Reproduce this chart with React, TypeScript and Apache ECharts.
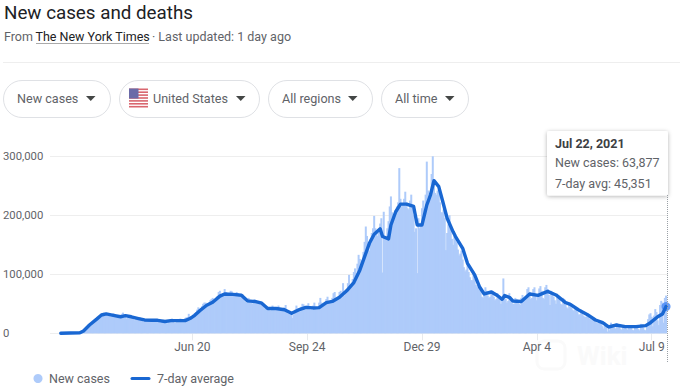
import React, { useEffect, useRef } from "react";
import * as echarts from "echarts";

const FONT = "Roboto, sans-serif";

const tickDays = [110, 206, 302, 398, 494];
const tickLabels = ["Jun 20", "Sep 24", "Dec 29", "Apr 4", "Jul 9"];
const yTicks = [0, 100000, 200000, 300000];

// Daily new cases (thousands); index 0 = Mar 2, 2020, last = Jul 22, 2021
const dailyCasesK = [
  0, 0, 0, 0, 0, 0, 0, 0, 0, 0,
  0.3, 0.5, 0.6, 0.7, 1, 1.5, 2, 3, 4.5, 6,
  8, 10, 9, 11, 13, 14, 18, 18, 19, 21,
  24, 27, 26, 28, 33, 34, 35, 31, 34, 33,
  33, 30, 28, 30, 34, 32, 29, 27, 30, 29,
  31, 33, 35, 30, 28, 25, 27, 31, 30, 29,
  27, 24, 22, 27, 25, 26, 27, 25, 22, 20,
  21, 23, 24, 23, 23, 20, 19, 20, 22, 23,
  24, 24, 20, 18, 19, 22, 23, 21, 20, 17,
  21, 23, 24, 25, 22, 18, 18, 21, 22, 24,
  25, 23, 20, 21, 26, 27, 27, 33, 29, 26,
  28, 32, 34, 36, 40, 44, 38, 40, 46, 50,
  52, 52, 47, 48, 52, 56, 58, 60, 54, 54,
  60, 63, 70, 72, 66, 64, 68, 75, 70, 66,
  64, 67, 72, 71, 65, 63, 66, 70, 68, 64,
  62, 64, 66, 60, 54, 52, 56, 60, 56, 52,
  50, 56, 58, 56, 52, 50, 52, 54, 50, 46,
  42, 44, 46, 44, 40, 38, 42, 47, 44, 41,
  40, 44, 47, 43, 39, 38, 40, 44, 48, 38,
  33, 35, 37, 34, 26, 32, 40, 47, 42, 38,
  40, 45, 50, 49, 43, 40, 47, 51, 44, 40,
  41, 47, 52, 44, 41, 42, 52, 60, 52, 46,
  46, 52, 58, 62, 52, 52, 55, 60, 68, 70,
  58, 58, 62, 70, 72, 68, 85, 64, 68, 75,
  85, 99, 82, 84, 92, 104, 110, 102, 118, 133,
  126, 118, 124, 138, 155, 181, 165, 145, 140, 160,
  170, 178, 199, 178, 172, 165, 170, 186, 195, 103,
  206, 160, 158, 178, 190, 215, 232, 205, 195, 200,
  208, 215, 222, 280, 228, 215, 220, 228, 240, 222,
  212, 210, 225, 235, 218, 200, 172, 178, 102, 195,
  178, 182, 212, 225, 205, 235, 291, 242, 225, 230,
  270, 300, 258, 238, 235, 242, 245, 222, 205, 205,
  210, 195, 141, 170, 185, 200, 178, 160, 150, 165,
  165, 155, 142, 132, 135, 140, 125, 112, 105, 108,
  115, 104, 95, 90, 90, 105, 92, 82, 78, 80,
  78, 72, 62, 60, 70, 78, 72, 64, 60, 62,
  72, 72, 62, 56, 58, 68, 65, 58, 50, 60,
  93, 66, 58, 52, 55, 68, 62, 54, 50, 50,
  60, 58, 52, 50, 48, 60, 65, 58, 55, 58,
  75, 78, 70, 58, 60, 75, 78, 64, 56, 62,
  76, 80, 72, 60, 58, 78, 82, 75, 65, 48,
  72, 70, 62, 56, 50, 65, 62, 58, 50, 48,
  60, 58, 48, 44, 42, 52, 50, 44, 40, 38,
  45, 42, 36, 32, 32, 40, 38, 30, 28, 28,
  32, 30, 25, 25, 22, 27, 26, 20, 18, 17,
  22, 20, 16, 12, 8, 18, 15, 3, 8, 5,
  18, 15, 15, 10, 8, 17, 14, 12, 8, 6,
  14, 13, 12, 8, 6, 14, 14, 11, 6, 5,
  14, 12, 11, 7, 5, 16, 15, 10, 6, 5,
  16, 24, 32, 34, 28, 12, 30, 41, 36, 22,
  14, 48, 55, 52, 18, 60, 63.877,
];

// 7-day average, read at the line's bends
const avgDays = [
  0, 16, 19, 24, 30, 34, 38, 44, 50, 54, 59, 65, 70, 76, 81, 87, 92, 98, 104, 108,
  112, 116, 122, 127, 133, 137, 144, 151, 156, 163, 168, 173, 180, 187, 193, 200,
  205, 211, 216, 222, 227, 233, 239, 245, 250, 254, 258, 262, 267, 269, 274, 276,
  280, 284, 289, 295, 298, 302, 306, 309, 312, 316, 319, 323, 328, 330, 336, 340,
  346, 350, 354, 360, 365, 369, 371, 375, 378, 385, 392, 399, 407, 414, 422, 426,
  433, 440, 447, 453, 458, 464, 472, 481, 489, 493, 499, 503, 506,
];
const avgValuesK = [
  0, 1, 4, 14, 24, 31, 33, 30.5, 28, 30, 28, 25, 22.6, 22, 22, 20, 21.5, 21.5, 21.5, 25,
  30.5, 38, 47.5, 52.5, 63, 66.7, 66, 64.4, 55, 53.7, 51, 42, 42, 40, 34, 40.7,
  44, 43, 43.5, 52, 54, 61, 72, 86, 107, 130, 152.5, 168, 177, 164, 160, 183.6,
  206, 219, 219, 215, 183.6, 183.6, 217.5, 234, 258.8, 248.6, 226, 195, 172, 164, 144, 118.6,
  99, 79, 66.7, 70, 64, 57.6, 64, 61, 54.8, 54, 66.7, 64.4, 71, 65, 52, 49,
  39.5, 32, 22.6, 18, 10.7, 14, 11.3, 11.3, 13, 18, 28, 32.8, 45.351,
];

const pills = [
  { text: "New cases", x: 3.5, w: 107, tx: 17, ax: 86 },
  { text: "United States", x: 119.5, w: 140, tx: 153, ax: 236 },
  { text: "All regions", x: 268.5, w: 104, tx: 282, ax: 348 },
  { text: "All time", x: 381.5, w: 87, tx: 395, ax: 445 },
];
const flagStripes = [0, 1, 2, 3, 4, 5, 6];

const DAY_PX = 1.1964;
const LEFT = 49.9;
const TOP = 156.3;
const H = 177;

export default function App() {
  const ref = useRef<HTMLDivElement>(null);
  useEffect(() => {
    const chart = echarts.init(ref.current!, null, { renderer: "svg" });
    const graphic: any[] = [
      { type: "text", x: 4, y: 3, style: { text: "New cases and deaths", font: `18.8px ${FONT}`, fill: "#202124" } },
      { type: "text", x: 4, y: 30, style: { text: "From ", font: `12.5px ${FONT}`, fill: "#5f6368" } },
      { type: "text", x: 35.5, y: 30, style: { text: "The New York Times", font: `12.5px ${FONT}`, fill: "#202124" } },
      { type: "line", shape: { x1: 36, y1: 43.5, x2: 149, y2: 43.5 }, style: { stroke: "#aaaaaa", lineWidth: 1 } },
      { type: "text", x: 152, y: 30, style: { text: "· Last updated: 1 day ago", font: `12.5px ${FONT}`, fill: "#5f6368" } },
      { type: "line", shape: { x1: 3, y1: 62.5, x2: 680, y2: 62.5 }, style: { stroke: "#eeeeee", lineWidth: 1 } },
    ];
    pills.forEach((p) => {
      graphic.push({ type: "rect", shape: { x: p.x, y: 80.5, width: p.w, height: 37, r: 18.5 }, style: { fill: "#fff", stroke: "#dfe1e5", lineWidth: 1 } });
      graphic.push({ type: "text", x: p.tx, y: 98, style: { text: p.text, font: `12.6px ${FONT}`, fill: "#5f6368", textVerticalAlign: "middle" } });
      graphic.push({ type: "polygon", shape: { points: [[p.ax, 96], [p.ax + 9.5, 96], [p.ax + 4.75, 101]] }, style: { fill: "#444746" } });
    });
    flagStripes.forEach((i) => {
      graphic.push({ type: "rect", shape: { x: 129, y: 88.5 + i * 2.9, width: 19, height: 1.6 }, style: { fill: "#d9666f" } });
    });
    graphic.push({ type: "rect", shape: { x: 129, y: 88.5, width: 9.5, height: 10 }, style: { fill: "#6a6aa8" } });

    graphic.push({ type: "line", z: 20, shape: { x1: 667.5, y1: 195, x2: 667.5, y2: 363 }, style: { stroke: "#9aa0a6", lineWidth: 1, lineDash: [1, 1] } });
    graphic.push({ type: "rect", z: 21, shape: { x: 547, y: 131, width: 121, height: 64.5, r: 2 }, style: { fill: "#fff", shadowBlur: 4, shadowColor: "rgba(0,0,0,0.3)", shadowOffsetY: 1 } });
    graphic.push({ type: "text", z: 22, x: 555, y: 143, style: { text: "Jul 22, 2021", font: `bold 12.5px ${FONT}`, fill: "#3c4043", textVerticalAlign: "middle" } });
    graphic.push({ type: "text", z: 22, x: 555, y: 162, style: { text: "New cases: 63,877", font: `12.5px ${FONT}`, fill: "#5f6368", textVerticalAlign: "middle" } });
    graphic.push({ type: "text", z: 22, x: 555, y: 183, style: { text: "7-day avg: 45,351", font: `12.5px ${FONT}`, fill: "#5f6368", textVerticalAlign: "middle" } });

    graphic.push({ type: "circle", shape: { cx: 38, cy: 378.5, r: 4.5 }, style: { fill: "#aecbfa" } });
    graphic.push({ type: "text", x: 49, y: 378.5, style: { text: "New cases", font: `12.5px ${FONT}`, fill: "#5f6368", textVerticalAlign: "middle" } });
    graphic.push({ type: "line", shape: { x1: 132, y1: 378.5, x2: 149, y2: 378.5 }, style: { stroke: "#1967d2", lineWidth: 3, lineCap: "round" } });
    graphic.push({ type: "text", x: 157, y: 378.5, style: { text: "7-day average", font: `12.5px ${FONT}`, fill: "#5f6368", textVerticalAlign: "middle" } });

    // very faint watermark, bottom right
    graphic.push({ type: "rect", z: 0, shape: { x: 537, y: 341, width: 28, height: 28, r: 7 }, style: { fill: "none", stroke: "#fafafa", lineWidth: 3 } });
    graphic.push({ type: "text", z: 0, x: 577, y: 356, style: { text: "Wiki", font: `bold 26px ${FONT}`, fill: "#fafafa", textVerticalAlign: "middle" } });

    chart.setOption({
      animation: false,
      backgroundColor: "#fff",
      textStyle: { fontFamily: FONT },
      tooltip: { show: false },
      grid: { left: LEFT, top: TOP, width: 515 * DAY_PX + 2, height: H, containLabel: false },
      xAxis: {
        type: "value",
        min: -9,
        max: 515 * 1 - 9 + 2 / DAY_PX,
        splitLine: { show: false },
        axisLine: { show: false },
        axisTick: { show: true, length: 7, customValues: tickDays, lineStyle: { color: "#e8eaed" } },
        axisLabel: {
          customValues: tickDays,
          margin: 8,
          color: "#5f6368",
          fontSize: 12,
          fontFamily: FONT,
          formatter: (v: number) => tickLabels[tickDays.indexOf(v)] ?? "",
        },
      },
      yAxis: {
        type: "value",
        min: 0,
        max: 300000,
        interval: 100000,
        axisLine: { show: false },
        axisTick: { show: false },
        splitLine: { lineStyle: { color: "#eeeeee", width: 1 } },
        axisLabel: {
          align: "left",
          margin: 47,
          padding: [2, 0, 0, 0],
          color: "#5f6368",
          fontSize: 11.3,
          fontFamily: FONT,
          formatter: (v: number) => (yTicks.includes(v) ? v.toLocaleString("en-US") : ""),
        },
      },
      series: [
        {
          name: "New cases",
          type: "bar",
          barWidth: 2,
          itemStyle: { color: "#aecbfa" },
          silent: true,
          data: dailyCasesK.map((v, i) => [i, v * 1000]),
        },
        {
          name: "7-day average",
          type: "line",
          showSymbol: false,
          silent: true,
          lineStyle: { color: "#1967d2", width: 3.4, cap: "round", join: "round" },
          data: avgDays.map((d, i) => [d, avgValuesK[i] * 1000]),
        },
        {
          name: "Selected day",
          type: "scatter",
          symbolSize: 9,
          silent: true,
          itemStyle: { color: "#4285f4" },
          data: [[avgDays[avgDays.length - 1], avgValuesK[avgValuesK.length - 1] * 1000]],
        },
      ],
      graphic,
    });
    return () => chart.dispose();
  }, []);
  return <div ref={ref} style={{ position: "absolute", left: 0, top: 0, width: 680, height: 387 }} />;
}
